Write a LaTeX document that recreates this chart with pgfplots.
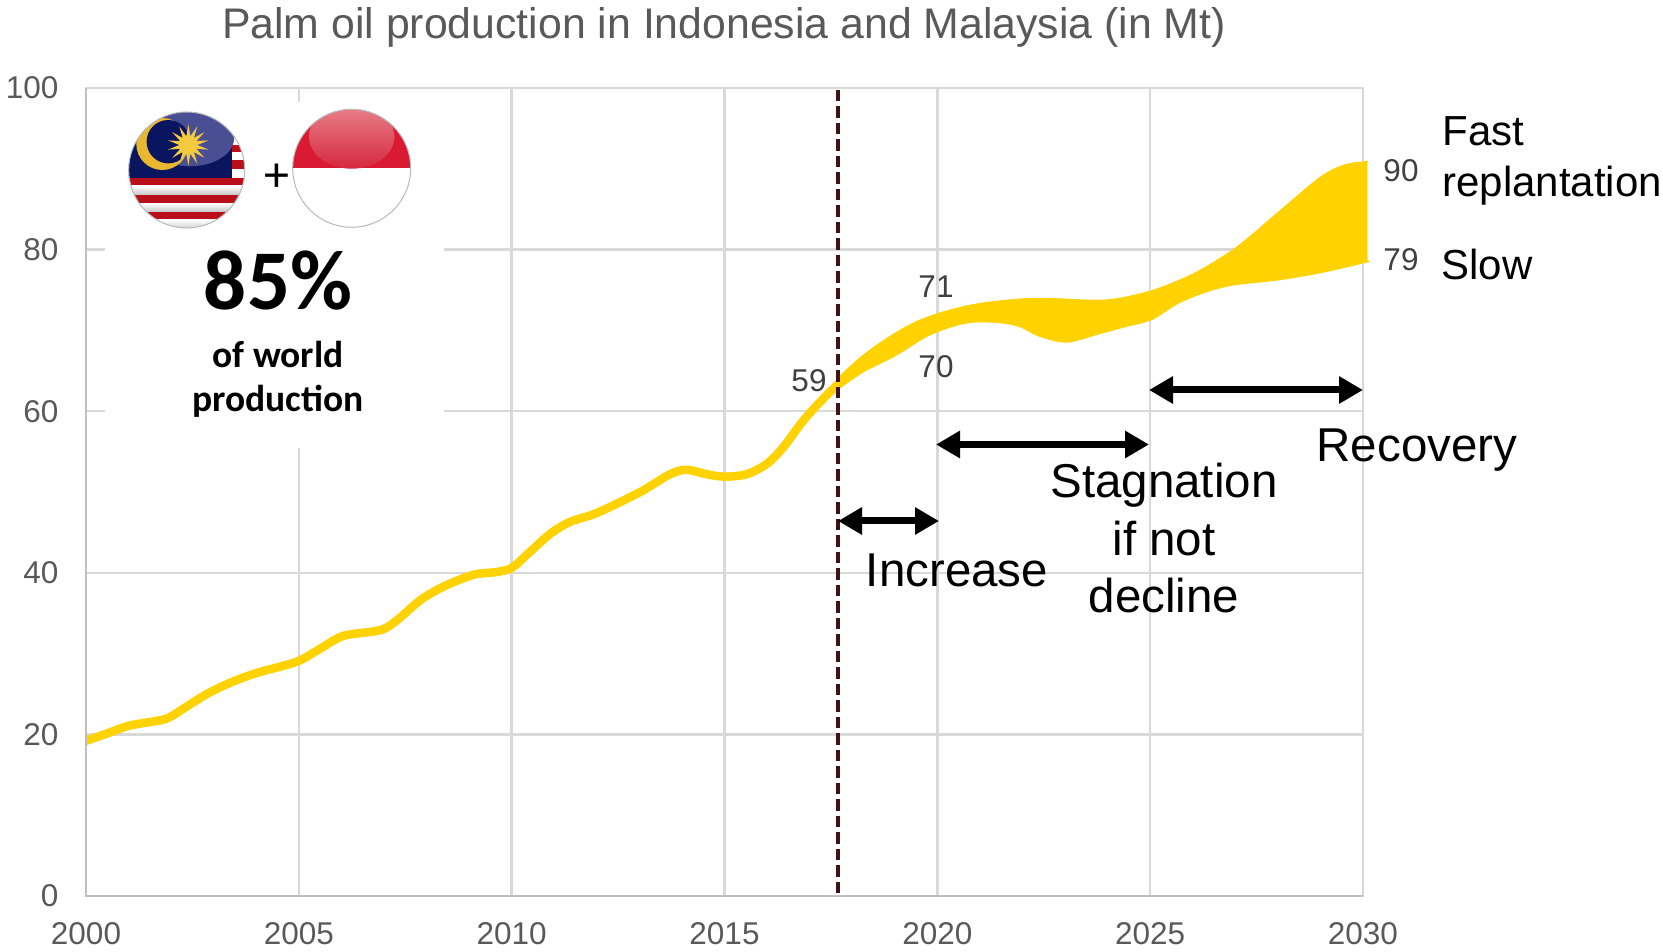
\documentclass[border=0pt]{standalone}
\usepackage{fontspec}
\setmainfont{Liberation Sans}
\newfontfamily\carlito{Carlito}
\usepackage{pgfplots}
\pgfplotsset{compat=1.18}
\usetikzlibrary{arrows.meta}
\definecolor{gold}{HTML}{FFD200}
\definecolor{gridc}{HTML}{D9D9D9}
\definecolor{axisc}{HTML}{BFBFBF}
\definecolor{tickc}{HTML}{595959}
\definecolor{annoc}{HTML}{404040}
\definecolor{dashc}{HTML}{3F1217}
\definecolor{navy}{HTML}{0A1560}
\definecolor{glossb}{HTML}{4A4F94}
\definecolor{myred}{HTML}{B80F1B}
\definecolor{idred}{HTML}{DA1A32}
\definecolor{cresc}{HTML}{E8B830}
\definecolor{stary}{HTML}{F5C93E}
\definecolor{glosst}{HTML}{E8828C}
\definecolor{glossl}{HTML}{D6283E}
\newcommand{\fs}[1]{\fontsize{#1}{#1}\selectfont}
\tikzset{px/.style={x=1pt,y=-1pt,shift={(0pt,951pt)}},
 dbl/.style={line width=7pt,{Triangle[length=24pt,width=26pt]}-{Triangle[length=24pt,width=26pt]}}}
\begin{document}
\begin{tikzpicture}
\path[use as bounding box,px] (0,0) rectangle (1663,951);
\begin{axis}[
  at={(86pt,55pt)}, anchor=south west,
  scale only axis, width=1277pt, height=808pt,
  xmin=2000, xmax=2030, ymin=0, ymax=100,
  xtick={2000,2005,...,2030}, ytick={0,20,...,100},
  x tick label style={/pgf/number format/1000 sep={}},
  /pgf/number format/assume math mode=true,
  tick label style={font=\fs{31.5}, text=tickc},
  x tick label style={yshift=-22.5pt},
  y tick label style={xshift=-24pt},
  major tick length=0pt,
  grid=major, grid style={gridc, line width=2.5pt},
  axis line style={gridc, line width=2.5pt},
  clip=false,
  axis on top=false,
]
% main line
\addplot[gold, line width=8.5pt, smooth, tension=0.5] coordinates {
(2000,19.2)(2000.49,20.1)(2001.03,21.1)(2001.86,21.9)(2002.29,23.2)(2002.84,25.0)
(2003.39,26.4)(2004.01,27.6)(2004.95,29.0)(2005.5,30.6)(2006.05,32.2)(2006.91,32.9)
(2007.3,34.1)(2007.85,36.6)(2008.4,38.3)(2009.1,39.75)(2009.65,40.1)(2010,40.6)
(2010.35,42.2)(2010.9,44.8)(2011.37,46.3)(2012,47.4)(2013.02,50)(2013.72,52.2)
(2014.11,52.75)(2014.58,52.2)(2015,51.9)(2015.52,52.2)(2016,53.5)(2016.39,55.6)
(2016.86,58.9)(2017.33,61.6)(2017.7,63.5)};
% band: upper edge out, lower edge back
\addplot[gold, fill=gold, line width=2pt, line join=round, smooth, tension=0.5] coordinates {
(2017.62,63.8)(2018.2,66.6)(2018.83,69)(2019.46,70.9)(2020,72.0)(2020.63,72.9)(2021.17,73.4)
(2021.89,73.8)(2022.6,73.9)(2023.95,73.7)(2025,74.8)(2026,76.9)(2027,80.1)
(2028,84.5)(2029,88.9)(2029.56,90.4)(2030.05,90.8)
(2030.08,90.4)(2030.08,85)(2030.08,79)(2030.05,78.5)
(2029,77.2)(2028,76.3)(2026.97,75.7)(2026.3,74.8)(2025.65,73.4)(2025.03,71.4)(2024.4,70.5)
(2023.77,69.6)(2023.05,68.6)(2022.42,69.3)(2021.95,70.5)(2021.5,71.0)(2020.9,71.1)(2020.45,70.7)
(2019.78,69.4)(2019.0,66.9)(2018.25,64.9)(2017.62,62.6)};
% reference year
\addplot[dashc, line width=4pt, dash pattern=on 11.5pt off 5pt] coordinates {(2017.66,99.8)(2017.66,0.4)};
\end{axis}
% heavier left and bottom axis lines
\draw[px,axisc,line width=2.5pt] (86,88) -- (86,896) -- (1363,896);
\begin{scope}[px]
\fill[white] (105,102) rectangle (444,448);
\node[text=tickc,font=\fs{42.8}] at (724,27) {Palm oil production in Indonesia and Malaysia (in Mt)};
\foreach \x/\y/\t in {809/381/59,936/287/71,936/367/70,1401/171/90,1401/260/79}
  \node[text=annoc,font=\fs{31.5}] at (\x,\y) {\t};
\node[anchor=west,font=\fs{42}] at (1439,131) {Fast};
\node[anchor=west,font=\fs{42}] at (1439,186) {replantation};
\node[anchor=west,font=\fs{42}] at (1438,264) {Slow};
\node[font=\fs{47.5}] at (1417,450) {Recovery};
\node[font=\fs{47.5}] at (957,570) {Increase};
\node[font=\fs{47.5}] at (1164,485) {Stagnation};
\node[font=\fs{47.5}] at (1164,539) {if not};
\node[font=\fs{47.5}] at (1164,596) {decline};
\draw[dbl] (1149,390) -- (1363,390);
\draw[dbl] (936,444.5) -- (1149,444.5);
\draw[dbl] (838,521) -- (939,521);
\node[font=\carlito\bfseries\fs{85}] at (278,281) {85\%};
\node[font=\carlito\bfseries\fs{37.5}] at (278,354) {of world};
\node[font=\carlito\bfseries\fs{37.5}] at (278,401) {production};
\node[font=\carlito\fs{50}] at (277,178) {+};
% Malaysia flag
\begin{scope}
\clip (186.7,170) circle (58pt);
\fill[navy] (120,105) rectangle (250,180);
\foreach \a/\b in {178.3/186,195/203.3,211.7/220}
  \fill[myred] (120,\a) rectangle (250,\b);
\foreach \a/\b in {186/195,203.3/211.7,220/230}
  \shade[top color=white,bottom color=gray!45] (120,\a) rectangle (250,\b);
\fill[white] (231.7,130) rectangle (250,178.3);
\foreach \a/\b in {145/151.7,160/169.3}
  \fill[myred] (231.7,\a) rectangle (250,\b);
\fill[glossb] (190,138.3) ellipse [x radius=44pt,y radius=28pt];
\fill[cresc] (162.3,144) circle (26pt);
\fill[navy] (168.3,141.7) circle (21.7pt);
\begin{scope}[shift={(188.3,145)}]
\fill[stary] (90:20.7)
  \foreach \i in {1,...,27}{ -- ({90+\i*180/14}:{ifthenelse(mod(\i,2)==0,20.7,9)}) } -- cycle;
\end{scope}
\end{scope}
\draw[gray!55,line width=1pt] (186.7,170) circle (58pt);
% Indonesia flag
\begin{scope}
\clip (351.7,168.3) circle (59pt);
\fill[white] (290,105) rectangle (415,230);
\fill[idred] (290,105) rectangle (415,168.3);
\shade[top color=glosst,bottom color=glossl]
   (351.7,136.7) ellipse [x radius=42.7pt,y radius=32pt];
\end{scope}
\draw[gray!55,line width=1pt] (351.7,168.3) circle (59pt);
\end{scope}
\end{tikzpicture}
\end{document}
